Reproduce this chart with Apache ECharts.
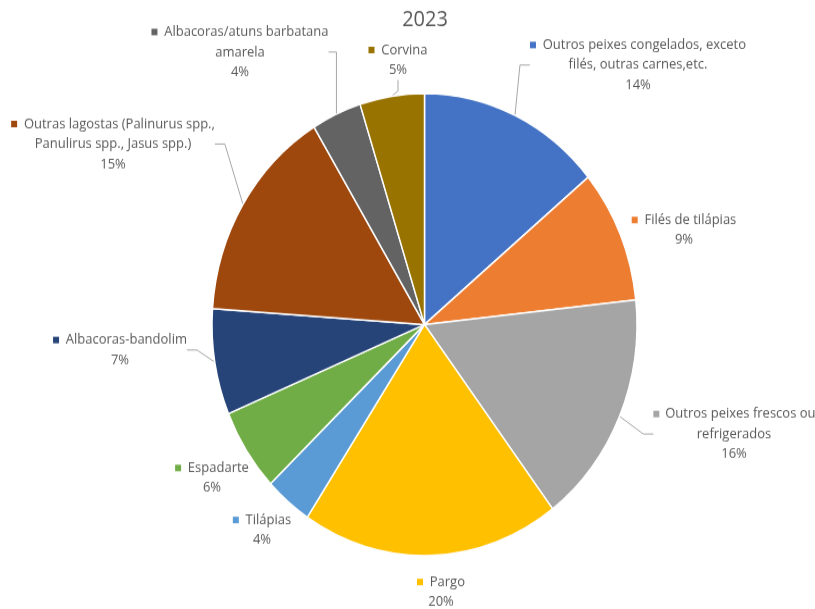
<!DOCTYPE html>
<html><head><meta charset="utf-8">
<script src="https://cdn.jsdelivr.net/npm/echarts@6/dist/echarts.min.js"></script>
<style>html,body{margin:0;padding:0;background:#fff;overflow:hidden}
#wrap{width:815px;height:609px;overflow:hidden}
#c{width:815px;height:560px;transform:scaleY(1.0875);transform-origin:0 0}</style>
</head><body><div id="wrap"><div id="c"></div></div>
<script>
var categories = [
  "Outros peixes congelados, exceto filés, outras carnes,etc.",
  "Filés de tilápias",
  "Outros peixes frescos ou refrigerados",
  "Pargo",
  "Tilápias",
  "Espadarte",
  "Albacoras-bandolim",
  "Outras lagostas (Palinurus spp., Panulirus spp., Jasus spp.)",
  "Albacoras/atuns barbatana amarela",
  "Corvina"
];
var labelLines = [
  ["Outros peixes congelados, exceto", "filés, outras carnes,etc."],
  ["Filés de tilápias"],
  ["Outros peixes frescos ou", "refrigerados"],
  ["Pargo"],
  ["Tilápias"],
  ["Espadarte"],
  ["Albacoras-bandolim"],
  ["Outras lagostas (Palinurus spp.,", "Panulirus spp., Jasus spp.)"],
  ["Albacoras/atuns barbatana", "amarela"],
  ["Corvina"]
];
var values = [14.0, 9.3, 16.4, 19.6, 3.6, 5.8, 7.4, 15.2, 3.8, 4.9];
var colors = ["#4472C4","#ED7D31","#A5A5A5","#FFC000","#5B9BD5","#70AD47","#264478","#9E480E","#636363","#997300"];
var showLeader = [true, false, true, false, false, false, true, true, true, true];

var SY = 1.0875; // vertical stretch of the picture
var labelPos = [
  [638, 65], [684, 230], [734, 434], [441, 592], [262, 530],
  [212, 478], [120, 350], [113, 144], [240, 52], [398, 60]
];

var data = categories.map(function (c, i) {
  return {
    name: c, value: values[i],
    itemStyle: { color: colors[i] },
    labelLine: { show: showLeader[i] },
    label: { rich: { m: { backgroundColor: colors[i], width: 6, height: 6, align: 'left' } } }
  };
});

var chart = echarts.init(document.getElementById('c'));
chart.setOption({
  animation: false,
  title: { text: '2023', left: 420, top: 3, textAlign: 'center',
    textStyle: { fontFamily: 'Open Sans', fontSize: 20, fontWeight: 'normal', color: '#595959' } },
  series: [{
    type: 'pie',
    center: [424.5, 324.5 / SY],
    radius: 212.5,
    startAngle: 90,
    clockwise: true,
    data: data,
    itemStyle: { borderColor: '#fff', borderWidth: 1.5 },
    label: {
      show: true,
      overflow: 'none',
      color: '#595959',
      fontFamily: 'Open Sans',
      fontSize: 13,
      lineHeight: 18.4,
      align: 'center',
      formatter: function (p) {
        var l = labelLines[p.dataIndex];
        var s = '{m|}  {n|' + l[0] + '}';
        for (var k = 1; k < l.length; k++) s += '\n{n|' + l[k] + '}';
        s += '\n{n|' + Math.round(p.percent) + '%}';
        return s;
      },
      rich: { n: { color: '#595959', fontFamily: 'Open Sans', fontSize: 13, lineHeight: 18.4 } }
    },
    labelLine: { show: true, length: 10, length2: 10, smooth: false,
      lineStyle: { color: '#A6A6A6', width: 1 } },
    labelLayout: function (p) {
      var pos = labelPos[p.dataIndex];
      return { x: pos[0], y: pos[1] / SY, align: 'center', verticalAlign: 'middle' };
    }
  }]
});
</script></body></html>
